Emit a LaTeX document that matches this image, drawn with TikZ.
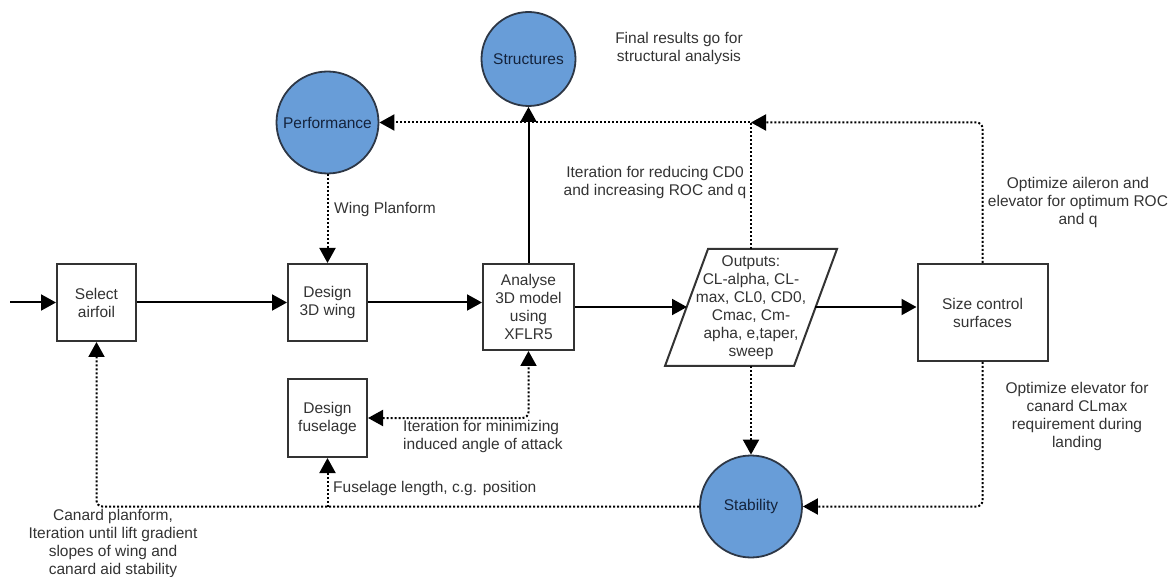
\documentclass[tikz,border=0pt]{standalone}
\usepackage{fontspec}
\setmainfont{Liberation Sans}
\usetikzlibrary{arrows.meta}
\definecolor{ink}{HTML}{333333}
\definecolor{bubblefill}{RGB}{104,157,216}
\definecolor{bubbleedge}{RGB}{45,55,70}
\definecolor{bubbletext}{RGB}{20,35,60}
\begin{document}
\begin{tikzpicture}[x=1pt,y=-1pt,
  every node/.style={font=\fontsize{15.5}{18}\selectfont, text=ink},
  stepbox/.style={draw=ink, line width=2pt, fill=white, align=center, inner sep=0pt},
  bubble/.style={circle, draw=bubbleedge, line width=1.8pt, fill=bubblefill, text=bubbletext, inner sep=0pt},
  tip/.style={-{Triangle[length=15pt,width=16pt]}},
  flow/.style={tip, line width=2pt, draw=black},
  loop/.style={tip, line width=2pt, draw=black, dash pattern=on 2pt off 2pt},
  note/.style={align=center, inner sep=0pt}
]
\useasboundingbox (0,0) rectangle (1173,577);

% process boxes
\node[stepbox, minimum width=79pt, minimum height=77pt] (select) at (96.5,302.5) {Select\\airfoil};
\node[stepbox, minimum width=79pt, minimum height=77pt] (wing) at (327.5,302.5) {Design\\3D wing};
\node[stepbox, minimum width=91pt, minimum height=86pt] (analyse) at (528.5,307) {Analyse\\3D model\\using\\XFLR5};
\node[stepbox, minimum width=79pt, minimum height=78pt] (fuse) at (327.5,418) {Design\\fuselage};
\node[stepbox, minimum width=130pt, minimum height=97pt] (size) at (982.5,312.5) {Size control\\surfaces};

% output data block (parallelogram) and its attachment points
\draw[draw=ink, line width=2pt, fill=white, line join=miter]
  (665,366) -- (708,249) -- (837,249) -- (794,366) -- cycle;
\node[align=center, inner sep=0pt] (out) at (751,308)
  {Outputs:\\CL-alpha, CL-\\max, CL0, CD0,\\Cmac, Cm-\\apha, e,taper,\\sweep};
\coordinate (outW) at (687,307);
\coordinate (outE) at (815,307);
\coordinate (outN) at (751,249);
\coordinate (outS) at (751,366);

% discipline bubbles
\node[bubble, minimum size=102pt] (perf) at (327.5,122.5) {Performance};
\node[bubble, minimum size=94pt] (struct) at (528.5,59) {Structures};
\node[bubble, minimum size=102pt] (stab) at (751,506.5) {Stability};

% main flow
\coordinate (start) at (10,302.5);
\draw[flow] (start) -- (select.west);
\draw[flow] (select.east) -- (wing.west);
\draw[flow] (wing.east) -- (wing.east -| analyse.west);
\draw[flow] (analyse.east |- outW) -- (outW);
\draw[flow] (outE) -- (outE -| size.west);
\draw[flow] (analyse.north) -- (struct.south);

% iteration loops
\coordinate (tee) at (751,122.5);
\draw[loop] (perf.south) -- (wing.north);
\draw[loop] (outN) |- (perf.east);
\draw[loop, rounded corners=6pt] (size.north) |- (tee);
\draw[loop, rounded corners=6pt] (size.south) |- (stab.east);
\draw[loop] (outS) -- (stab.north);
\draw[loop, rounded corners=6pt] (stab.west) -| (select.south);
\draw[loop] (fuse.south |- stab.west) -- (fuse.south);
\draw[loop, rounded corners=6pt, {Triangle[length=15pt,width=16pt]}-{Triangle[length=15pt,width=16pt]}]
  (fuse.east) -| (analyse.south);

% annotations
\node[note, anchor=west] (lwing) at (334,209) {Wing Planform};
\node[note] (lfinal) at (679,48) {Final results go for\\structural analysis};
\node[note] (lcd0) at (655,182) {Iteration for reducing CD0\\and increasing ROC and q};
\node[note] (lail) at (1078,202) {Optimize aileron and\\elevator for optimum ROC\\and q};
\node[note] (lelev) at (1077,416) {Optimize elevator for\\canard CLmax\\requirement during\\landing};
\node[note, anchor=west, align=left] (lind) at (403,436) {Iteration for minimizing\\induced angle of attack};
\node[note, anchor=west] (lfus) at (333,488) {Fuselage length, c.g. position};
\node[note] (lcan) at (113,543) {Canard planform,\\Iteration until lift gradient\\slopes of wing and\\canard aid stability};
\end{tikzpicture}
\end{document}
